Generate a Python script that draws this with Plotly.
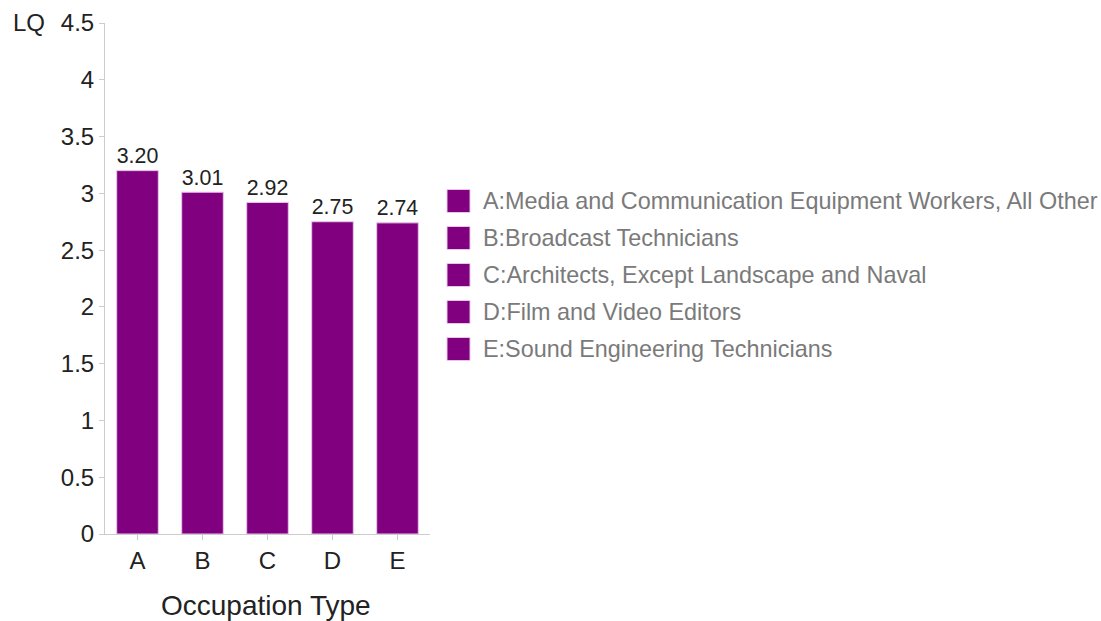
import plotly.graph_objects as go

# Location quotient by occupation
codes = ["A", "B", "C", "D", "E"]
names = [
    "Media and Communication Equipment Workers, All Other",
    "Broadcast Technicians",
    "Architects, Except Landscape and Naval",
    "Film and Video Editors",
    "Sound Engineering Technicians",
]
lq = [3.20, 3.01, 2.92, 2.75, 2.74]
y_ticks = [0, 0.5, 1, 1.5, 2, 2.5, 3, 3.5, 4, 4.5]
y_tick_text = ["0", "0.5", "1", "1.5", "2", "2.5", "3", "3.5", "4", "4.5"]

W, H = 1101, 621
L, R, T, B = 105, 671, 23, 87
plot_w = W - L - R
plot_h = H - T - B
bar_color = "#800080"
font = "Liberation Sans, Arial, sans-serif"


def px_x(px):
    return (px - L) / plot_w


def px_y(py):
    return 1 - (py - T) / plot_h


fig = go.Figure()
fig.add_trace(go.Bar(
    x=codes,
    y=lq,
    width=0.64,
    marker=dict(color=bar_color, line=dict(color="#e9c6e9", width=1)),
    text=[f"{v:.2f}" for v in lq],
    textposition="outside",
    textfont=dict(size=23, color="#222222", family=font),
    cliponaxis=False,
    showlegend=False,
    hoverinfo="x+y",
))

shapes = []
annotations = []
# Category legend drawn as swatches with labels
for i, (c, n) in enumerate(zip(codes, names)):
    cy = 201 + i * 37
    shapes.append(dict(
        type="rect", xref="paper", yref="paper",
        x0=px_x(447), x1=px_x(470), y0=px_y(cy - 11.5), y1=px_y(cy + 11.5),
        fillcolor=bar_color, line=dict(color="#e9c6e9", width=1),
    ))
    annotations.append(dict(
        xref="paper", yref="paper", x=px_x(481), y=px_y(cy),
        xanchor="left", yanchor="middle", showarrow=False,
        text=f"{c}:{n}", font=dict(size=23.4, color="#7a7a7a", family=font),
    ))

annotations.append(dict(
    xref="paper", yref="paper", x=px_x(47), y=px_y(22),
    xanchor="right", yanchor="middle", showarrow=False,
    text="LQ", font=dict(size=24, color="#222222", family=font),
))

# Axis title placed below the tick labels
annotations.append(dict(
    xref="paper", yref="paper", x=px_x(266), y=px_y(605),
    xanchor="center", yanchor="middle", showarrow=False,
    text="Occupation Type", font=dict(size=28, color="#222222", family=font),
))

fig.update_layout(
    width=W, height=H,
    margin=dict(l=L, r=R, t=T, b=B, pad=0),
    paper_bgcolor="white", plot_bgcolor="white",
    font=dict(family=font, color="#222222"),
    shapes=shapes,
    annotations=annotations,
    xaxis=dict(
        range=[-0.5, 4.5],
        automargin=False,
        showline=True, linecolor="#cccccc", linewidth=1,
        ticks="outside", ticklen=5, tickcolor="#cccccc",
        showgrid=False, zeroline=False,
        tickfont=dict(size=24, color="#222222"),
    ),
    yaxis=dict(
        range=[0, 4.5],
        automargin=False,
        tickvals=y_ticks, ticktext=y_tick_text,
        showline=True, linecolor="#cccccc", linewidth=1,
        ticks="outside", ticklen=5, tickcolor="#cccccc",
        showgrid=False, zeroline=False,
        tickfont=dict(size=24, color="#222222"),
    ),
)

fig.write_html("out.html")
